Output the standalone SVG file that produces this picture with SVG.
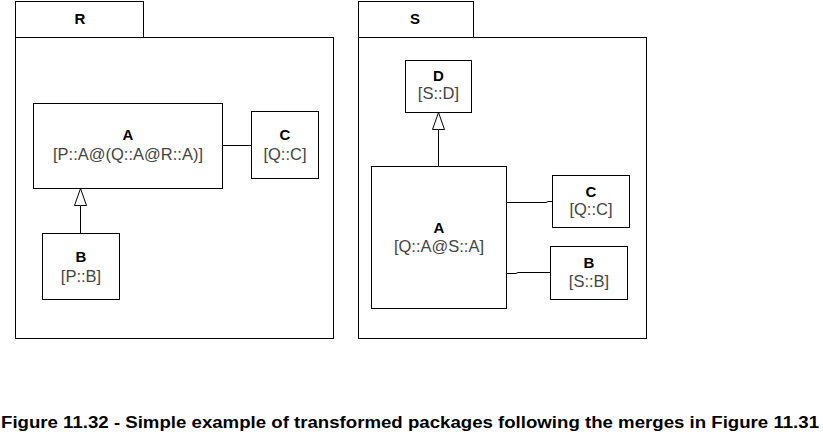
<svg xmlns="http://www.w3.org/2000/svg" width="823" height="432" viewBox="0 0 823 432">
<style>
  .shape { fill: #fff; stroke: #000; stroke-width: 1; }
  .line { fill: none; stroke: #000; stroke-width: 1; }
  .name { font-family: "Liberation Sans", Arial, sans-serif; font-size: 15px; font-weight: bold; fill: #000; text-anchor: middle; }
  .ref { font-family: "Liberation Sans", Arial, sans-serif; font-size: 16.5px; fill: #444; text-anchor: middle; }
  .cap { font-family: "Liberation Sans", Arial, sans-serif; font-size: 16px; font-weight: bold; fill: #000; }
</style>
<rect width="823" height="432" fill="#fff"/>
<g id="pkg-R">
  <rect class="shape" x="15.5" y="1.5" width="128" height="36"/>
  <rect class="shape" x="15.5" y="37.5" width="318" height="301"/>
  <text class="name" x="80" y="24">R</text>
</g>
<g id="pkg-S">
  <rect class="shape" x="358.5" y="1.5" width="115" height="36"/>
  <rect class="shape" x="358.5" y="37.5" width="288" height="301"/>
  <text class="name" x="415" y="24">S</text>
</g>
<g id="connectors">
  <line class="line" x1="222.5" y1="145.5" x2="251.5" y2="145.5"/>
  <path d="M80.5,205.5 L74.5,205.5 L80.5,188.5 L86.5,205.5 Z" class="shape"/>
  <line class="line" x1="80.5" y1="205.5" x2="80.5" y2="233.5"/>
  <path d="M438.5,129.5 L432.5,129.5 L438.5,112.5 L444.5,129.5 Z" class="shape"/>
  <line class="line" x1="438.5" y1="129.5" x2="438.5" y2="166.5"/>
  <polyline class="line" points="506.5,202.5 546,202.5 548,201.5 552.5,201.5"/>
  <polyline class="line" points="506.5,273.5 516,273.5 518,272.5 550.5,272.5"/>
</g>
<g id="R-A">
  <rect class="shape" x="33.5" y="103.5" width="189" height="85"/>
  <text class="name" x="128" y="140">A</text>
  <text class="ref" x="128" y="159.5">[P::A@(Q::A@R::A)]</text>
</g>
<g id="R-C">
  <rect class="shape" x="251.5" y="111.5" width="67" height="67"/>
  <text class="name" x="285" y="140">C</text>
  <text class="ref" x="285" y="159.5">[Q::C]</text>
</g>
<g id="R-B">
  <rect class="shape" x="42.5" y="233.5" width="77" height="66"/>
  <text class="name" x="81" y="262">B</text>
  <text class="ref" x="81" y="281.5">[P::B]</text>
</g>
<g id="S-D">
  <rect class="shape" x="405.5" y="60.5" width="66" height="52"/>
  <text class="name" x="438.5" y="81">D</text>
  <text class="ref" x="438.5" y="99">[S::D]</text>
</g>
<g id="S-A">
  <rect class="shape" x="371.5" y="166.5" width="135" height="142"/>
  <text class="name" x="439" y="233">A</text>
  <text class="ref" x="439" y="251.5">[Q::A@S::A]</text>
</g>
<g id="S-C">
  <rect class="shape" x="552.5" y="175.5" width="77" height="52"/>
  <text class="name" x="591" y="197">C</text>
  <text class="ref" x="591" y="214.5">[Q::C]</text>
</g>
<g id="S-B">
  <rect class="shape" x="550.5" y="246.5" width="77" height="53"/>
  <text class="name" x="589" y="268">B</text>
  <text class="ref" x="589" y="286.5">[S::B]</text>
</g>
<text class="cap" x="1" y="428" textLength="818" lengthAdjust="spacingAndGlyphs">Figure 11.32 - Simple example of transformed packages following the merges in Figure 11.31</text>
</svg>
